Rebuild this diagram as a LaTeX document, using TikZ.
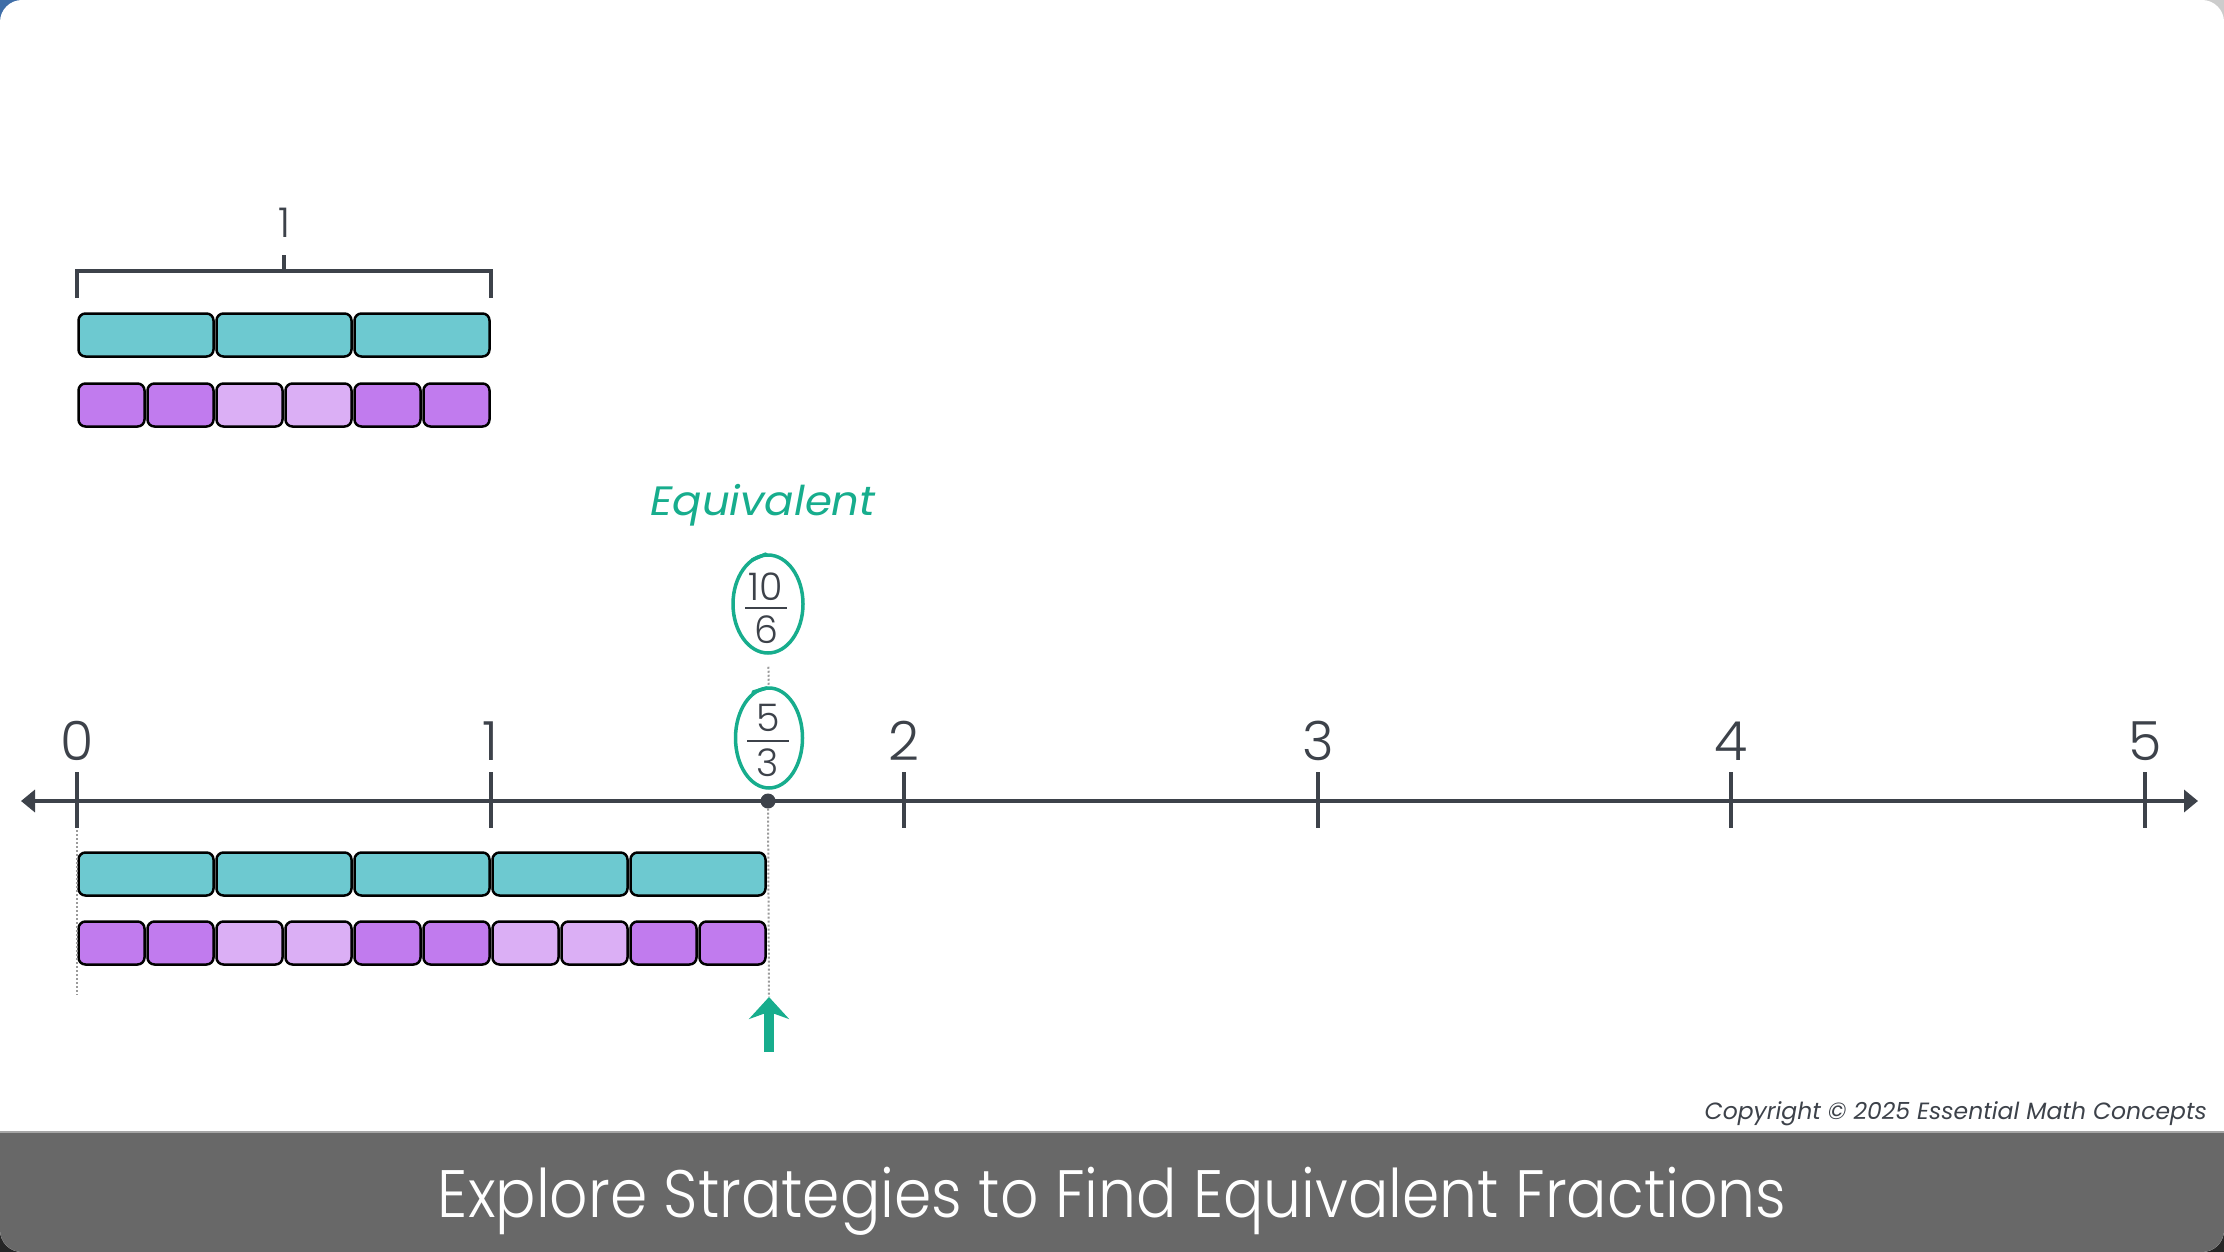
\documentclass[tikz,border=0pt]{standalone}
\usepackage{fontspec}
\setmainfont{Poppins}
\newfontfamily\lightf{Poppins Light}
\usetikzlibrary{arrows.meta,shapes.geometric}
\definecolor{ink}{HTML}{3D424A}
\definecolor{tealf}{HTML}{6DC9D0}
\definecolor{pdark}{HTML}{C17BEE}
\definecolor{plight}{HTML}{DBAFF5}
\definecolor{eqgreen}{HTML}{17AD8D}
\definecolor{banner}{HTML}{686868}
\definecolor{cornerblue}{HTML}{3F6EA8}
\definecolor{guidegray}{HTML}{9A9A9A}
\tikzset{
  piece/.style={draw=black, line width=2.5pt, rounded corners=7pt, inner sep=0pt, minimum height=43pt},
  tealbar/.style={piece, fill=tealf},
  axisline/.style={draw=ink, line width=4pt},
  numlab/.style={anchor=base, inner sep=0pt, text=ink, font=\lightf\fontsize{54}{60}\selectfont},
  fraclab/.style={inner sep=0pt, text=ink, font=\lightf\fontsize{38}{42}\selectfont},
  fracbar/.style={draw=ink, line width=2.2pt},
  oval/.style={draw=eqgreen, line width=3.5pt, ellipse, inner sep=0pt},
  guide/.style={draw=guidegray, line width=2pt, dotted},
}
\begin{document}
\begin{tikzpicture}[x=1pt,y=-1pt]
\useasboundingbox (0,0) rectangle (2224,1252);
% corners
\fill[cornerblue] (0,0) rectangle (40,40);
\fill[black!20] (2184,0) rectangle (2224,40);
\fill[black!85] (0,1212) rectangle (40,1252);
\fill[black!85] (2184,1212) rectangle (2224,1252);
\begin{scope}
\path[clip, rounded corners=22pt] (0,0) rectangle (2224,1252);
\fill[white] (0,0) rectangle (2224,1252);
\fill[banner] (0,1132) rectangle (2224,1252);
\draw[black!35, line width=1.5pt] (0,1132) -- (2224,1132);
\end{scope}
% bracket over top bars
\draw[axisline, line cap=butt] (77,298) -- (77,271) -- (491,271) -- (491,298);
\draw[axisline] (284,271) -- (284,255);
\node[anchor=base, inner sep=0pt, text=ink, font=\lightf\fontsize{41}{44}\selectfont] (one) at (284,237) {1};
% top bars
\foreach \i in {0,1,2}
  \node[tealbar, minimum width=135pt] (tt\i) at ({77+138*\i+69},335) {};
\foreach \i/\c in {0/pdark,1/pdark,2/plight,3/plight,4/pdark,5/pdark}
  \node[piece, fill=\c, minimum width=66pt] (tp\i) at ({77+69*\i+34.5},405) {};
% bottom bars
\foreach \i in {0,...,4}
  \node[tealbar, minimum width=135pt] (bt\i) at ({77+138*\i+69},874) {};
\foreach \i/\c in {0/pdark,1/pdark,2/plight,3/plight,4/pdark,5/pdark,6/plight,7/plight,8/pdark,9/pdark}
  \node[piece, fill=\c, minimum width=66pt] (bp\i) at ({77+69*\i+34.5},943) {};
% number line
\coordinate (axL) at (21,801);
\coordinate (axR) at (2198,801);
\draw[axisline, {Triangle[length=14pt,width=22pt]}-{Triangle[length=14pt,width=22pt]}] (axL) -- (axR);
\foreach \k in {0,...,5} {
  \draw[axisline] ({77+413.6*\k},772) -- ({77+413.6*\k},828);
  \node[numlab] (lab\k) at ({77+413.6*\k},760) {\k};
}
% guides
\coordinate (g0a) at (77,830);
\coordinate (g0b) at (77,995);
\draw[guide] (g0a) -- (g0b);
\node[circle, fill=ink, inner sep=0pt, minimum size=15pt] (dot) at (768,801) {};
\coordinate (arrtip) at (769,997);
\coordinate (arrbase) at (769,1052);
\draw[guide] (dot) -- (arrtip);
\draw[draw=eqgreen, line width=10pt, -{Stealth[length=22pt,width=40pt]}] (arrbase) -- (arrtip);
% ovals
\node[oval, minimum width=70pt, minimum height=98pt] (ov1) at (768,604) {};
\node[oval, minimum width=67pt, minimum height=100pt] (ov2) at (769,738) {};
\draw[eqgreen, line width=3.5pt, line cap=round] (752,560) -- (766,554);
\draw[eqgreen, line width=3.5pt, line cap=round] (753,692) -- (767,688);
\draw[guide, shorten <=12pt] (ov1) -- (ov2);
% fractions
\node[fraclab] (n1) at (766,587) {10};
\draw[fracbar] (745,608) -- (787,608);
\node[fraclab] (d1) at (766,630) {6};
\node[fraclab] (n2) at (768,718) {5};
\draw[fracbar] (747,741) -- (789,741);
\node[fraclab] (d2) at (768,763) {3};
% labels
\node[anchor=base, inner sep=0pt, text=eqgreen, font=\itshape\fontsize{41}{46}\selectfont] (eq) at (763,515) {\scalebox{1.06}[1]{Equivalent}};
\node[anchor=base east, inner sep=0pt, text=ink, font=\itshape\fontsize{23.5}{28}\selectfont] (copy) at (2207,1119) {Copyright © 2025 Essential Math Concepts};
\node[anchor=base, inner sep=0pt, text=white, font=\lightf\fontsize{67}{74}\selectfont] (title) at (1112,1217) {\scalebox{0.895}[1]{Explore Strategies to Find Equivalent Fractions}};
\end{tikzpicture}
\end{document}
